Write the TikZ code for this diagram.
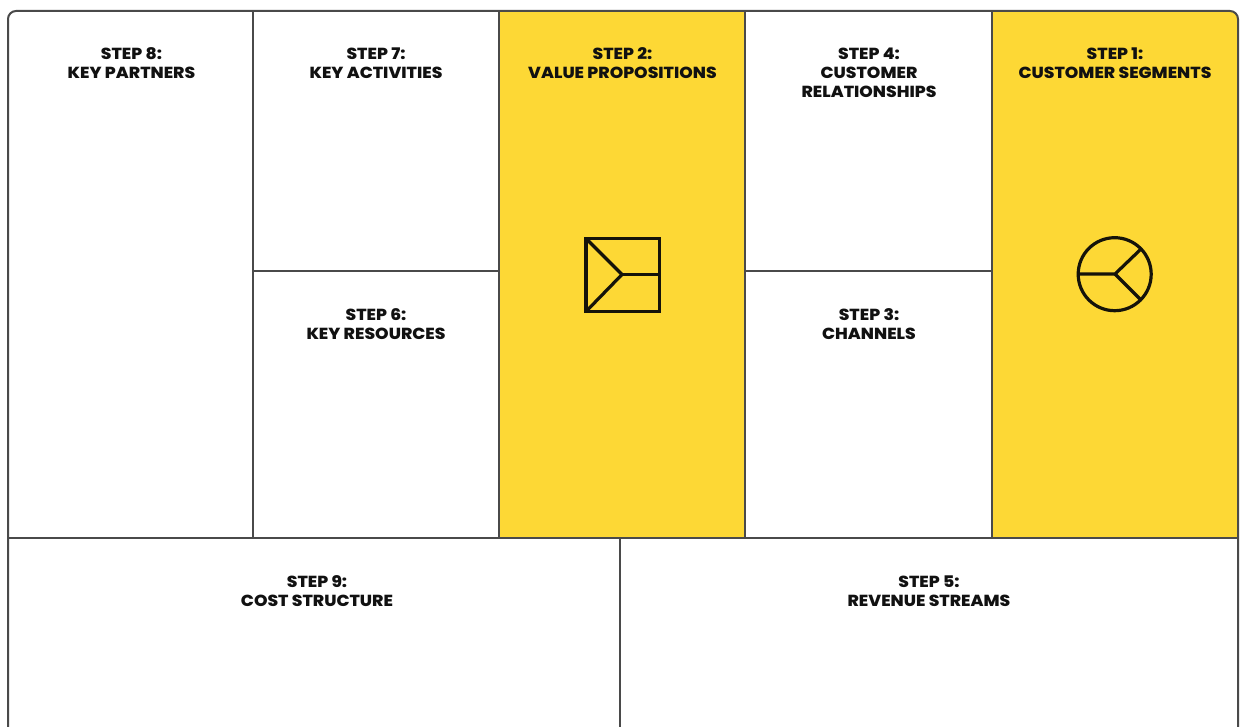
\documentclass[tikz,border=0pt]{standalone}
\usepackage{fontspec}
\setmainfont{Poppins}[BoldFont={* ExtraBold},BoldFeatures={FakeStretch=1.075}]
\definecolor{ink}{HTML}{4A4A4A}
\definecolor{canvasyellow}{HTML}{FDD835}
\definecolor{icon}{HTML}{15130A}
\definecolor{labelink}{HTML}{111111}
\tikzset{
  gridline/.style={draw=ink,line width=1.5pt},
  iconline/.style={draw=icon,line width=2.4pt},
  lab/.style={anchor=north,align=center,inner sep=0pt,text=labelink,
    font=\fontsize{12}{14.2}\selectfont\bfseries},
  yellowcell/.style={fill=canvasyellow,draw=none}
}
\begin{document}
\begin{tikzpicture}[x=0.75pt,y=-0.75pt]
\useasboundingbox (0,0) rectangle (1240,727);
\fill[white] (0,0) rectangle (1240,727);
\fill[yellowcell] (499,11) rectangle (745,538);
\fill[yellowcell] (992,11) rectangle (1210,538);
\fill[yellowcell,rounded corners=6pt] (1200,560) -- (1200,11) -- (1238,11) -- (1238,560) -- cycle;
\fill[white] (1190,538.5) rectangle (1245,570);
% frame
\draw[gridline,rounded corners=6pt] (8,727) -- (8,11) -- (1238,11) -- (1238,727);
\draw[gridline] (8,538) -- (1238,538);
\draw[gridline] (253,11) -- (253,538);
\draw[gridline] (499,11) -- (499,538);
\draw[gridline] (745,11) -- (745,538);
\draw[gridline] (992,11) -- (992,538);
\draw[gridline] (253,271) -- (499,271);
\draw[gridline] (745,271) -- (992,271);
\draw[gridline] (620,538) -- (620,727);
% labels
\node[lab] (s8) at (131.5,47.5) {STEP 8:\\KEY PARTNERS};
\node[lab] (s7) at (376,47.5) {STEP 7:\\KEY ACTIVITIES};
\node[lab] (s2) at (622.5,47.5) {STEP 2:\\VALUE PROPOSITIONS};
\node[lab] (s4) at (869,47.5) {STEP 4:\\CUSTOMER\\RELATIONSHIPS};
\node[lab] (s1) at (1115,47.5) {STEP 1:\\CUSTOMER SEGMENTS};
\node[lab] (s6) at (376,308.5) {STEP 6:\\KEY RESOURCES};
\node[lab] (s3) at (869,308.5) {STEP 3:\\CHANNELS};
\node[lab] (s9) at (317,575.5) {STEP 9:\\COST STRUCTURE};
\node[lab] (s5) at (929,575.5) {STEP 5:\\REVENUE STREAMS};
% value proposition icon
\draw[iconline] (586,238.5) rectangle (659.5,311.5);
\draw[iconline] (586,238.5) -- (622,274.5) -- (586,311.5);
\draw[iconline] (622,274.5) -- (659.5,274.5);
% customer segments icon
\draw[iconline] (1114.7,274.2) circle[radius=36.5];
\draw[iconline] (1078,274) -- (1115,274) -- (1140.5,249.5);
\draw[iconline] (1115,274) -- (1140.5,299.5);
\end{tikzpicture}
\end{document}
